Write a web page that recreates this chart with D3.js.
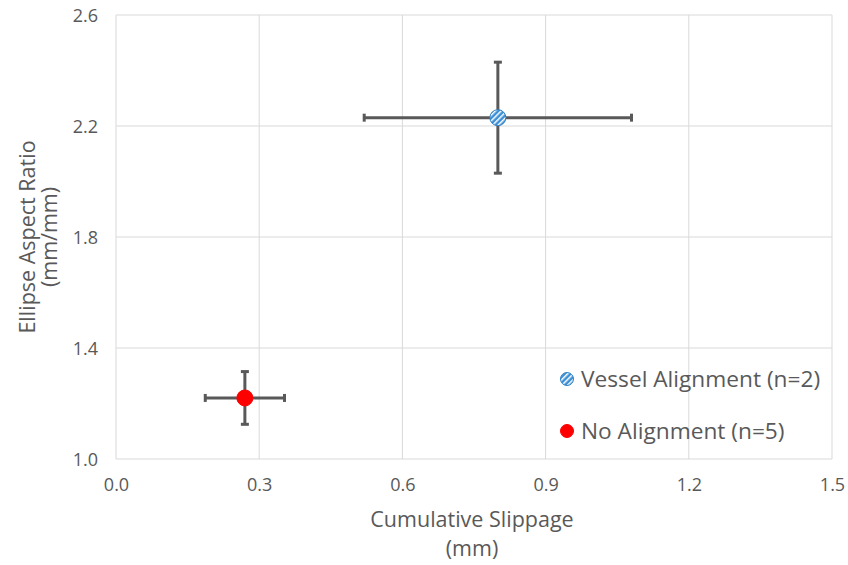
<!DOCTYPE html>
<html>
<head>
<meta charset="utf-8">
<script src="https://cdn.jsdelivr.net/npm/d3@7"></script>
<style>
  html, body { margin: 0; padding: 0; background: #fff; }
  text { font-family: "Open Sans", "Liberation Sans", sans-serif; }
</style>
</head>
<body>
<svg id="chart" width="848" height="565"></svg>
<script>
// Group summaries: mean slippage / aspect ratio with their error ranges
const groups = ["Vessel Alignment (n=2)", "No Alignment (n=5)"];
const slippage = [0.80, 0.27];
const slippageErr = [0.28, 0.083];
const aspectRatio = [2.23, 1.22];
const aspectErr = [0.20, 0.095];
const xTicks = [0.0, 0.3, 0.6, 0.9, 1.2, 1.5];
const yTicks = [1.0, 1.4, 1.8, 2.2, 2.6];

const svg = d3.select("#chart");
const margin = { left: 116, right: 16, top: 15, bottom: 106 };
const W = 848, H = 565;

const x = d3.scaleLinear().domain([0, 1.5]).range([margin.left, W - margin.right]);
const y = d3.scaleLinear().domain([1.0, 2.6]).range([H - margin.bottom, margin.top]);

// hatched fill for the vessel-alignment marker
const defs = svg.append("defs");
const pat = defs.append("pattern")
  .attr("id", "hatch").attr("patternUnits", "userSpaceOnUse")
  .attr("width", 4).attr("height", 4)
  .attr("patternTransform", "rotate(45)");
pat.append("rect").attr("width", 4).attr("height", 4).attr("fill", "#3a8fd6");
pat.append("rect").attr("width", 1.5).attr("height", 4).attr("fill", "#ffffff");

// grid lines
const grid = svg.append("g");
grid.selectAll(".gx").data(xTicks).join("line")
  .attr("x1", d => x(d)).attr("x2", d => x(d))
  .attr("y1", y(2.6)).attr("y2", y(1.0))
  .attr("stroke", "#d9d9d9").attr("stroke-width", 1);
grid.selectAll(".gy").data(yTicks).join("line")
  .attr("x1", x(0)).attr("x2", x(1.5))
  .attr("y1", d => y(d)).attr("y2", d => y(d))
  .attr("stroke", "#d9d9d9").attr("stroke-width", 1);

// axes (labels only; lines come from the grid)
const xAxis = svg.append("g")
  .attr("transform", `translate(0,${y(1.0)})`)
  .call(d3.axisBottom(x).tickValues(xTicks).tickFormat(d3.format(".1f")).tickSize(0).tickPadding(19));
const yAxis = svg.append("g")
  .attr("transform", `translate(${x(0)},0)`)
  .call(d3.axisLeft(y).tickValues(yTicks).tickFormat(d3.format(".1f")).tickSize(0).tickPadding(18));
[xAxis, yAxis].forEach(a => {
  a.select(".domain").remove();
  a.attr("font-size", null).attr("font-family", null);
  a.selectAll("text").attr("fill", "#595959").style("font-size", "18px");
});
yAxis.selectAll("text").attr("dy", "0.35em");

// axis titles
const titleStyle = s => s.attr("fill", "#595959").style("font-size", "21.5px").attr("text-anchor", "middle");
const xt = svg.append("text").attr("x", 472).attr("y", 527).call(titleStyle);
xt.append("tspan").attr("x", 472).text("Cumulative Slippage");
xt.append("tspan").attr("x", 472).attr("dy", 29).text("(mm)");
const yt = svg.append("text").attr("transform", "translate(35,237) rotate(-90)").call(titleStyle);
yt.append("tspan").attr("x", 0).text("Ellipse Aspect Ratio");
yt.append("tspan").attr("x", 0).attr("dy", 22).text("(mm/mm)");

// error bars
const idx = d3.range(groups.length);
const eb = svg.append("g").attr("stroke", "#595959").attr("stroke-width", 3);
const cap = 4;
idx.forEach(i => {
  const cx = x(slippage[i]), cy = y(aspectRatio[i]);
  const x0 = x(slippage[i] - slippageErr[i]), x1 = x(slippage[i] + slippageErr[i]);
  const y0 = y(aspectRatio[i] - aspectErr[i]), y1 = y(aspectRatio[i] + aspectErr[i]);
  eb.append("line").attr("x1", x0).attr("x2", x1).attr("y1", cy).attr("y2", cy);
  eb.append("line").attr("x1", cx).attr("x2", cx).attr("y1", y0).attr("y2", y1);
  eb.append("line").attr("x1", x0).attr("x2", x0).attr("y1", cy - cap).attr("y2", cy + cap);
  eb.append("line").attr("x1", x1).attr("x2", x1).attr("y1", cy - cap).attr("y2", cy + cap);
  eb.append("line").attr("x1", cx - cap).attr("x2", cx + cap).attr("y1", y0).attr("y2", y0);
  eb.append("line").attr("x1", cx - cap).attr("x2", cx + cap).attr("y1", y1).attr("y2", y1);
});

// markers
const fills = ["url(#hatch)", "#ff0000"];
const strokes = ["#2e7fc4", "#ff0000"];
svg.append("g").selectAll("circle").data(idx).join("circle")
  .attr("cx", i => x(slippage[i])).attr("cy", i => y(aspectRatio[i]))
  .attr("r", 8).attr("fill", i => fills[i]).attr("stroke", i => strokes[i]).attr("stroke-width", 1);

// legend
const leg = svg.append("g").attr("transform", "translate(567,379)");
idx.forEach(i => {
  const g = leg.append("g").attr("transform", `translate(0,${i * 52})`);
  g.append("circle").attr("r", 6.5).attr("fill", fills[i]).attr("stroke", strokes[i]).attr("stroke-width", 1);
  g.append("text").attr("x", 14).attr("dy", "0.35em").attr("fill", "#595959")
    .style("font-size", "22.7px").text(groups[i]);
});
</script>
</body>
</html>
